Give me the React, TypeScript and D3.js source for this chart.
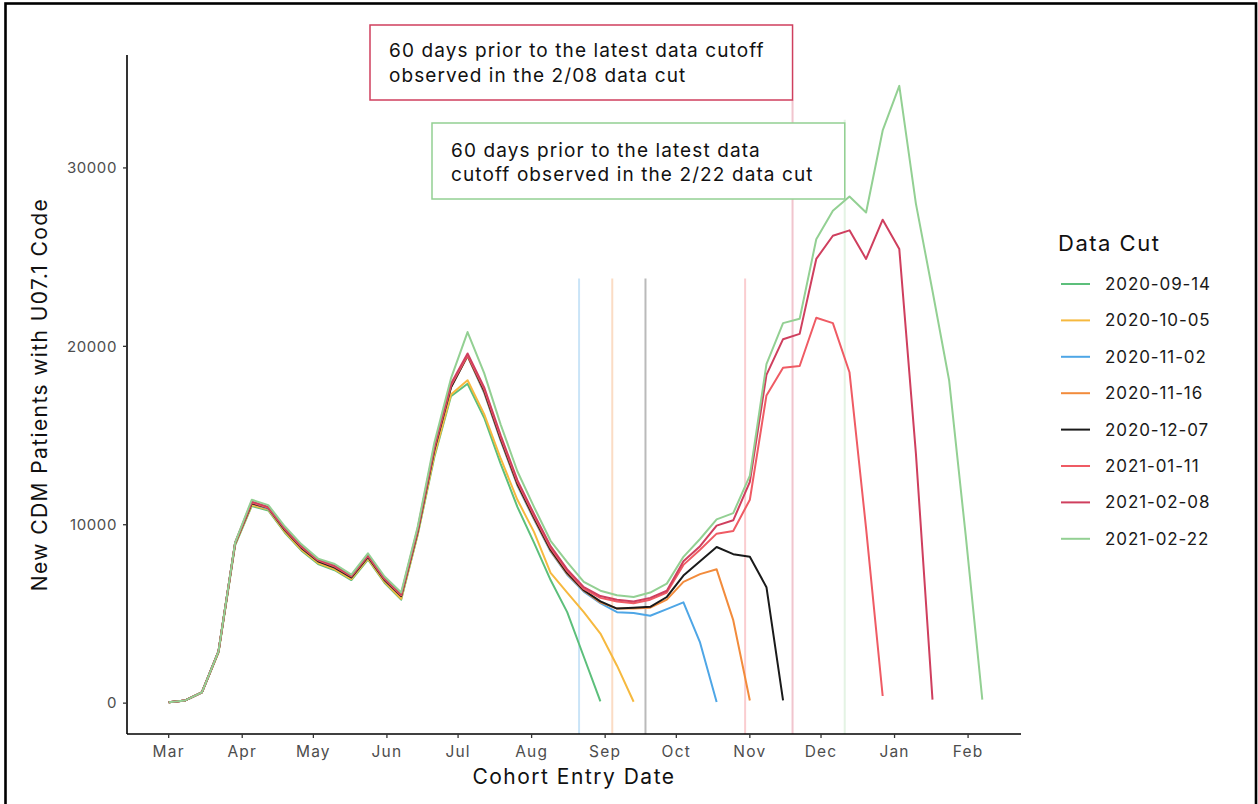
import React from "react";
import * as d3 from "d3";

// Weekly cohort entry dates (week starts)
const weekStarts: Date[] = d3.timeDay.range(new Date(2020, 2, 1), new Date(2021, 1, 8), 7);

const cutLabels = [
  "2020-09-14",
  "2020-10-05",
  "2020-11-02",
  "2020-11-16",
  "2020-12-07",
  "2021-01-11",
  "2021-02-08",
  "2021-02-22",
];
const cutColors = ["#5cbf7b", "#f6b93f", "#4ea6e6", "#f28b3b", "#1a1a1a", "#ef5b64", "#cf3f5e", "#93d093"];

const cut_2020_09_14 = [50, 150, 600, 2850, 8850, 11050, 10800, 9550, 8550, 7800, 7450, 6900, 8050, 6750, 5800, 9450, 13800, 17200, 17900, 16000, 13400, 11000, 9000, 6900, 5100, 2600, 100];
const cut_2020_10_05 = [50, 150, 600, 2850, 8900, 11100, 10850, 9600, 8600, 7850, 7500, 6950, 8100, 6800, 5850, 9500, 13900, 17300, 18100, 16200, 13700, 11400, 9600, 7300, 6200, 5100, 3900, 2100, 80];
const cut_2020_11_02 = [50, 150, 600, 2900, 8950, 11200, 10900, 9700, 8700, 7950, 7600, 7050, 8200, 6900, 6000, 9650, 14200, 17700, 19450, 17400, 14700, 12200, 10300, 8500, 7200, 6250, 5600, 5100, 5050, 4900, 5270, 5650, 3400, 60];
const cut_2020_11_16 = [50, 150, 600, 2900, 8950, 11200, 10950, 9700, 8700, 7950, 7600, 7050, 8200, 6900, 6000, 9650, 14200, 17700, 19450, 17450, 14750, 12250, 10350, 8550, 7250, 6300, 5650, 5300, 5300, 5350, 5800, 6800, 7230, 7500, 4650, 150];
const cut_2020_12_07 = [50, 150, 600, 2900, 8950, 11200, 10950, 9700, 8700, 7950, 7600, 7050, 8200, 6900, 6000, 9650, 14200, 17700, 19500, 17500, 14800, 12300, 10400, 8600, 7300, 6330, 5700, 5300, 5350, 5400, 5950, 7150, 7950, 8750, 8350, 8200, 6500, 150];
const cut_2021_01_11 = [50, 150, 600, 2900, 8950, 11250, 10950, 9750, 8750, 8000, 7650, 7100, 8250, 6950, 6050, 9700, 14300, 17800, 19500, 17600, 14900, 12400, 10500, 8700, 7400, 6400, 5900, 5700, 5600, 5800, 6200, 7750, 8600, 9500, 9650, 11400, 17250, 18800, 18900, 21600, 21300, 18550, 9800, 400];
const cut_2021_02_08 = [50, 150, 600, 2900, 9000, 11300, 11000, 9800, 8800, 8050, 7700, 7150, 8300, 7000, 6100, 9800, 14400, 17900, 19600, 17700, 15000, 12500, 10600, 8800, 7500, 6500, 6000, 5800, 5700, 5900, 6300, 7950, 8800, 9950, 10250, 12400, 18400, 20400, 20700, 24900, 26200, 26500, 24900, 27100, 25450, 14000, 200];
const cut_2021_02_22 = [50, 150, 600, 2900, 9000, 11400, 11100, 9900, 8900, 8100, 7800, 7200, 8400, 7100, 6200, 9900, 14600, 18200, 20800, 18500, 15600, 13000, 11000, 9100, 7900, 6800, 6300, 6050, 5950, 6200, 6700, 8200, 9200, 10300, 10650, 12750, 19000, 21300, 21550, 26000, 27600, 28400, 27500, 32100, 34600, 28000, 23100, 18100, 9400, 200];

const cutSeries = [
  cut_2020_09_14,
  cut_2020_10_05,
  cut_2020_11_02,
  cut_2020_11_16,
  cut_2020_12_07,
  cut_2021_01_11,
  cut_2021_02_08,
  cut_2021_02_22,
];

// 60-days-prior markers
const markerDates = ["2020-08-21", "2020-09-04", "2020-09-18", "2020-10-30", "2020-11-19", "2020-12-11"];
const markerCut = [2, 3, 4, 5, 6, 7];
const markerTops = [23800, 23800, 23800, 23800, 33800, 32700];

const yTicks = [0, 10000, 20000, 30000];
const monthTicks: Date[] = d3.timeMonth.range(new Date(2020, 2, 1), new Date(2021, 1, 2));

const note1 = ["60 days prior to the latest data cutoff", "observed in the 2/08 data cut"];
const note2 = ["60 days prior to the latest data", "cutoff observed in the 2/22 data cut"];

const FONT = "Inter, 'Open Sans', sans-serif";

export default function App() {
  const W = 1258;
  const H = 804;
  const left = 127;
  const right = 1021;
  const top = 55;
  const bottom = 734;

  const [d0, d1] = d3.extent(weekStarts) as [Date, Date];
  const pad = (+d1 - +d0) * 0.05;
  const x = d3
    .scaleTime()
    .domain([new Date(+d0 - pad), new Date(+d1 + pad)])
    .range([128, 1023]);
  const ymax = d3.max(cutSeries.flat()) as number;
  const y = d3
    .scaleLinear()
    .domain([-ymax * 0.05, ymax * 1.05])
    .range([bottom, top]);

  const line = d3
    .line<number>()
    .x((_, i) => x(weekStarts[i]))
    .y((d) => y(d));

  const parse = d3.timeParse("%Y-%m-%d");
  const fmtMonth = d3.timeFormat("%b");

  const m1x = x(parse(markerDates[4]) as Date);
  const m2x = x(parse(markerDates[5]) as Date);

  return (
    <svg
      width={W}
      height={H}
      style={{ position: "absolute", left: 0, top: 0, background: "#fff" }}
      fontFamily={FONT}
    >
      <rect x={0} y={0} width={W} height={H} fill="#fff" />
      {/* outer frame */}
      <rect x={5.5} y={3.5} width={1250.5} height={H + 10} fill="none" stroke="#000" strokeWidth={2.6} />

      {/* marker lines */}
      {markerDates.map((d, i) => {
        const xv = x(parse(d) as Date);
        return (
          <line
            key={d}
            x1={xv}
            x2={xv}
            y1={bottom}
            y2={y(markerTops[i])}
            stroke={cutColors[markerCut[i]]}
            strokeOpacity={markerCut[i] === 7 ? 0.25 : 0.3}
            strokeWidth={2}
          />
        );
      })}

      {/* series lines */}
      {cutSeries.map((s, i) => (
        <path
          key={cutLabels[i]}
          d={line(s) as string}
          fill="none"
          stroke={cutColors[i]}
          strokeWidth={2}
          strokeLinejoin="round"
        />
      ))}

      {/* axes */}
      <line x1={left} x2={left} y1={top} y2={bottom} stroke="#000" strokeWidth={1.6} />
      <line x1={left} x2={right} y1={bottom} y2={bottom} stroke="#000" strokeWidth={1.6} />
      {yTicks.map((t) => (
        <g key={t}>
          <line x1={left - 4} x2={left} y1={y(t)} y2={y(t)} stroke="#333" strokeWidth={1.3} />
          <text x={left - 10} y={y(t)} dy="0.35em" textAnchor="end" fontSize={15} letterSpacing={0.6} fill="#4d4d4d">
            {t}
          </text>
        </g>
      ))}
      {monthTicks.map((m) => (
        <g key={+m}>
          <line x1={x(m)} x2={x(m)} y1={bottom} y2={bottom + 4} stroke="#333" strokeWidth={1.3} />
          <text x={x(m)} y={757} textAnchor="middle" fontSize={15.5} letterSpacing={1.2} fill="#4d4d4d">
            {fmtMonth(m)}
          </text>
        </g>
      ))}
      <text x={(left + right) / 2} y={784} textAnchor="middle" fontSize={21} letterSpacing={1.5} fill="#111">
        Cohort Entry Date
      </text>
      <text
        transform={`translate(47, ${(top + bottom) / 2}) rotate(-90)`}
        textAnchor="middle"
        fontSize={21}
        letterSpacing={1.4}
        fill="#111"
      >
        New CDM Patients with U07.1 Code
      </text>

      {/* annotation boxes */}
      <rect x={370} y={25} width={m1x - 370} height={75} fill="#fff" stroke={cutColors[6]} strokeWidth={1.5} />
      {note1.map((t, i) => (
        <text key={t} x={389} y={57 + i * 24.5} fontSize={19} letterSpacing={1.1} fill="#111">
          {t}
        </text>
      ))}
      <rect x={432} y={123} width={m2x - 432} height={76} fill="#fff" stroke={cutColors[7]} strokeWidth={1.5} />
      {note2.map((t, i) => (
        <text key={t} x={451} y={157 + i * 24} fontSize={19} letterSpacing={1.1} fill="#111">
          {t}
        </text>
      ))}

      {/* legend */}
      <text x={1058} y={251} fontSize={22} letterSpacing={1.5} fill="#111">
        Data Cut
      </text>
      {cutLabels.map((lab, i) => {
        const ly = 284 + i * 36.4;
        return (
          <g key={lab}>
            <line x1={1061} x2={1090} y1={ly} y2={ly} stroke={cutColors[i]} strokeWidth={2} />
            <text x={1105} y={ly} dy="0.35em" fontSize={17} letterSpacing={0.9} fill="#1a1a1a">
              {lab}
            </text>
          </g>
        );
      })}
    </svg>
  );
}
